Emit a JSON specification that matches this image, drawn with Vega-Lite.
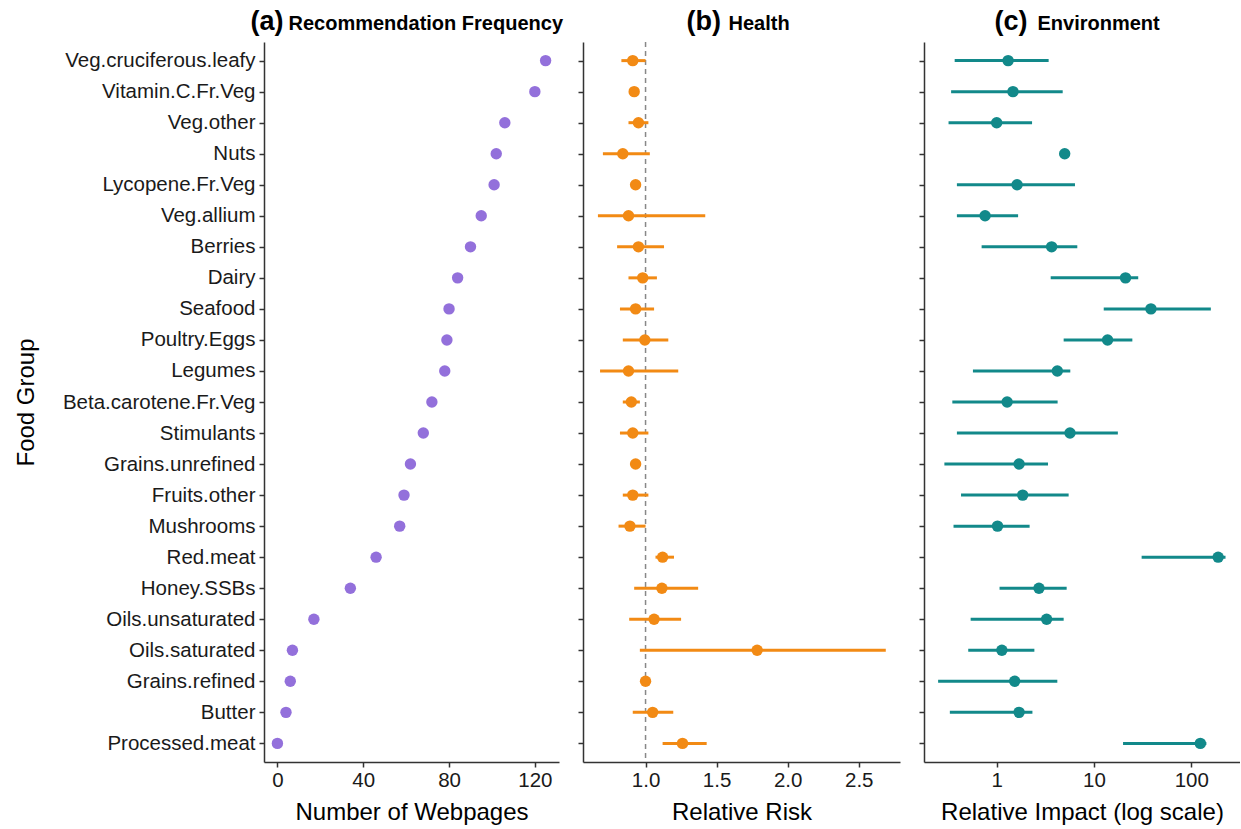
{
  "$schema": "https://vega.github.io/schema/vega-lite/v6.json",
  "padding": {"left": 14, "top": 7, "right": 0, "bottom": 0},
  "spacing": 24,
  "bounds": "flush",
  "config": {
    "font": "Liberation Sans",
    "view": {"stroke": null},
    "axis": {
      "domainColor": "#333333", "domainWidth": 1.5,
      "tickColor": "#333333", "tickWidth": 1.5, "tickSize": 5,
      "labelFontSize": 20.5, "labelColor": "#1a1a1a", "labelPadding": 3, "labelLimit": 400,
      "titleFontSize": 24, "titleFontWeight": "normal", "titleColor": "#000000",
      "grid": false
    }
  },
  "datasets": {
    "food": [
      {"food": "Veg.cruciferous.leafy", "web": 125, "h": 0.91, "hlo": 0.83, "hhi": 1.0, "e": 1.31, "elo": 0.37, "ehi": 3.42},
      {"food": "Vitamin.C.Fr.Veg", "web": 120, "h": 0.92, "hlo": 0.92, "hhi": 0.92, "e": 1.47, "elo": 0.34, "ehi": 4.77},
      {"food": "Veg.other", "web": 106, "h": 0.95, "hlo": 0.88, "hhi": 1.02, "e": 1.0, "elo": 0.32, "ehi": 2.31},
      {"food": "Nuts", "web": 102, "h": 0.84, "hlo": 0.7, "hhi": 1.03, "e": 5.0, "elo": 5.0, "ehi": 5.0},
      {"food": "Lycopene.Fr.Veg", "web": 101, "h": 0.93, "hlo": 0.93, "hhi": 0.93, "e": 1.62, "elo": 0.39, "ehi": 6.38},
      {"food": "Veg.allium", "web": 95, "h": 0.88, "hlo": 0.665, "hhi": 1.42, "e": 0.76, "elo": 0.39, "ehi": 1.66},
      {"food": "Berries", "web": 90, "h": 0.95, "hlo": 0.8, "hhi": 1.13, "e": 3.67, "elo": 0.7, "ehi": 6.74},
      {"food": "Dairy", "web": 84, "h": 0.98, "hlo": 0.88, "hhi": 1.08, "e": 21.1, "elo": 3.59, "ehi": 28.5},
      {"food": "Seafood", "web": 80, "h": 0.93, "hlo": 0.82, "hhi": 1.06, "e": 38.5, "elo": 12.6, "ehi": 159},
      {"food": "Poultry.Eggs", "web": 79, "h": 0.995, "hlo": 0.84, "hhi": 1.16, "e": 13.8, "elo": 4.88, "ehi": 24.8},
      {"food": "Legumes", "web": 78, "h": 0.88, "hlo": 0.68, "hhi": 1.23, "e": 4.2, "elo": 0.57, "ehi": 5.71},
      {"food": "Beta.carotene.Fr.Veg", "web": 72, "h": 0.9, "hlo": 0.84, "hhi": 0.96, "e": 1.28, "elo": 0.35, "ehi": 4.23},
      {"food": "Stimulants", "web": 68, "h": 0.91, "hlo": 0.82, "hhi": 1.02, "e": 5.67, "elo": 0.39, "ehi": 17.6},
      {"food": "Grains.unrefined", "web": 62, "h": 0.93, "hlo": 0.93, "hhi": 0.93, "e": 1.7, "elo": 0.29, "ehi": 3.37},
      {"food": "Fruits.other", "web": 59, "h": 0.91, "hlo": 0.84, "hhi": 1.02, "e": 1.85, "elo": 0.43, "ehi": 5.49},
      {"food": "Mushrooms", "web": 57, "h": 0.89, "hlo": 0.81, "hhi": 1.0, "e": 1.02, "elo": 0.36, "ehi": 2.18},
      {"food": "Red.meat", "web": 46, "h": 1.12, "hlo": 1.07, "hhi": 1.2, "e": 189, "elo": 30.9, "ehi": 225},
      {"food": "Honey.SSBs", "web": 34, "h": 1.115, "hlo": 0.92, "hhi": 1.37, "e": 2.72, "elo": 1.07, "ehi": 5.24},
      {"food": "Oils.unsaturated", "web": 17, "h": 1.06, "hlo": 0.885, "hhi": 1.25, "e": 3.26, "elo": 0.54, "ehi": 4.88},
      {"food": "Oils.saturated", "web": 7, "h": 1.785, "hlo": 0.96, "hhi": 2.69, "e": 1.13, "elo": 0.51, "ehi": 2.44},
      {"food": "Grains.refined", "web": 6, "h": 1.0, "hlo": 1.0, "hhi": 1.0, "e": 1.53, "elo": 0.25, "ehi": 4.2},
      {"food": "Butter", "web": 4, "h": 1.05, "hlo": 0.91, "hhi": 1.195, "e": 1.7, "elo": 0.33, "ehi": 2.33},
      {"food": "Processed.meat", "web": 0, "h": 1.26, "hlo": 1.12, "hhi": 1.43, "e": 124, "elo": 19.9, "ehi": 143}
    ],
    "ref": [{"ref": 1}]
  },
  "hconcat": [
    {
      "width": 295,
      "height": 720,
      "data": {"name": "food"},
      "layer": [
        {
          "mark": {"type": "circle", "size": 130, "opacity": 1, "color": "#9370DB"},
          "encoding": {
            "y": {"field": "food", "type": "nominal", "sort": null, "scale": {"type": "point", "padding": 0.6},
                  "axis": {"title": "Food Group", "titlePadding": 26, "labelPadding": 4}},
            "x": {"field": "web", "type": "quantitative", "scale": {"domain": [-6.25, 131.25], "nice": false, "zero": false},
                  "axis": {"values": [0, 40, 80, 120], "title": "Number of Webpages", "titlePadding": 10}}
          }
        },
        {
          "mark": {"type": "point", "opacity": 0},
          "encoding": {
            "x": {"field": "web", "type": "quantitative",
                  "axis": {"orient": "top", "domain": false, "ticks": false, "labels": false, "title": "(a)",
                           "titleFontSize": 27, "titleFontWeight": "bold", "titleX": -14, "titleY": -13,
                           "titleAlign": "left", "titleBaseline": "alphabetic", "titleAngle": 0}}
          }
        },
        {
          "mark": {"type": "point", "opacity": 0},
          "encoding": {
            "x": {"field": "web", "type": "quantitative",
                  "axis": {"orient": "top", "domain": false, "ticks": false, "labels": false, "title": "Recommendation Frequency",
                           "titleFontSize": 20, "titleFontWeight": "bold", "titleX": 24, "titleY": -13,
                           "titleAlign": "left", "titleBaseline": "alphabetic", "titleAngle": 0}}
          }
        }
      ],
      "resolve": {"axis": {"x": "independent"}}
    },
    {
      "width": 317,
      "height": 720,
      "layer": [
        {
          "data": {"name": "ref"},
          "mark": {"type": "rule", "color": "#888888", "strokeWidth": 1.5, "strokeDash": [5, 4]},
          "encoding": {
            "x": {"field": "ref", "type": "quantitative", "axis": null}
          }
        },
        {
          "data": {"name": "food"},
          "mark": {"type": "rule", "color": "#F28A14", "strokeWidth": 3},
          "encoding": {
            "y": {"field": "food", "type": "nominal", "sort": null, "scale": {"type": "point", "padding": 0.6},
                  "axis": {"labels": false, "title": null}},
            "x": {"field": "hlo", "type": "quantitative", "axis": null},
            "x2": {"field": "hhi"}
          }
        },
        {
          "data": {"name": "food"},
          "mark": {"type": "circle", "size": 130, "opacity": 1, "color": "#F28A14"},
          "encoding": {
            "y": {"field": "food", "type": "nominal", "sort": null, "scale": {"type": "point", "padding": 0.6},
                  "axis": {"labels": false, "title": null}},
            "x": {"field": "h", "type": "quantitative", "scale": {"domain": [0.56, 2.79], "nice": false, "zero": false},
                  "axis": {"values": [1, 1.5, 2, 2.5], "format": ".1f", "title": "Relative Risk", "titlePadding": 10}}
          }
        },
        {
          "data": {"name": "food"},
          "mark": {"type": "point", "opacity": 0},
          "encoding": {
            "x": {"field": "h", "type": "quantitative",
                  "axis": {"orient": "top", "domain": false, "ticks": false, "labels": false, "title": "(b)",
                           "titleFontSize": 27, "titleFontWeight": "bold", "titleX": 103, "titleY": -13,
                           "titleAlign": "left", "titleBaseline": "alphabetic", "titleAngle": 0}}
          }
        },
        {
          "data": {"name": "food"},
          "mark": {"type": "point", "opacity": 0},
          "encoding": {
            "x": {"field": "h", "type": "quantitative",
                  "axis": {"orient": "top", "domain": false, "ticks": false, "labels": false, "title": "Health",
                           "titleFontSize": 20, "titleFontWeight": "bold", "titleX": 145, "titleY": -13,
                           "titleAlign": "left", "titleBaseline": "alphabetic", "titleAngle": 0}}
          }
        }
      ],
      "resolve": {"axis": {"x": "independent"}}
    },
    {
      "width": 316,
      "height": 720,
      "data": {"name": "food"},
      "layer": [
        {
          "mark": {"type": "rule", "color": "#12898A", "strokeWidth": 3},
          "encoding": {
            "y": {"field": "food", "type": "nominal", "sort": null, "scale": {"type": "point", "padding": 0.6},
                  "axis": {"labels": false, "title": null}},
            "x": {"field": "elo", "type": "quantitative", "axis": null},
            "x2": {"field": "ehi"}
          }
        },
        {
          "mark": {"type": "circle", "size": 130, "opacity": 1, "color": "#12898A"},
          "encoding": {
            "y": {"field": "food", "type": "nominal", "sort": null, "scale": {"type": "point", "padding": 0.6},
                  "axis": {"labels": false, "title": null}},
            "x": {"field": "e", "type": "quantitative", "scale": {"type": "log", "domain": [0.179, 317], "nice": false, "zero": false},
                  "axis": {"values": [1, 10, 100], "format": "d", "title": "Relative Impact (log scale)", "titlePadding": 10}}
          }
        },
        {
          "mark": {"type": "point", "opacity": 0},
          "encoding": {
            "x": {"field": "e", "type": "quantitative",
                  "axis": {"orient": "top", "domain": false, "ticks": false, "labels": false, "title": "(c)",
                           "titleFontSize": 27, "titleFontWeight": "bold", "titleX": 70, "titleY": -13,
                           "titleAlign": "left", "titleBaseline": "alphabetic", "titleAngle": 0}}
          }
        },
        {
          "mark": {"type": "point", "opacity": 0},
          "encoding": {
            "x": {"field": "e", "type": "quantitative",
                  "axis": {"orient": "top", "domain": false, "ticks": false, "labels": false, "title": "Environment",
                           "titleFontSize": 20, "titleFontWeight": "bold", "titleX": 113, "titleY": -13,
                           "titleAlign": "left", "titleBaseline": "alphabetic", "titleAngle": 0}}
          }
        }
      ],
      "resolve": {"axis": {"x": "independent"}}
    }
  ]
}
